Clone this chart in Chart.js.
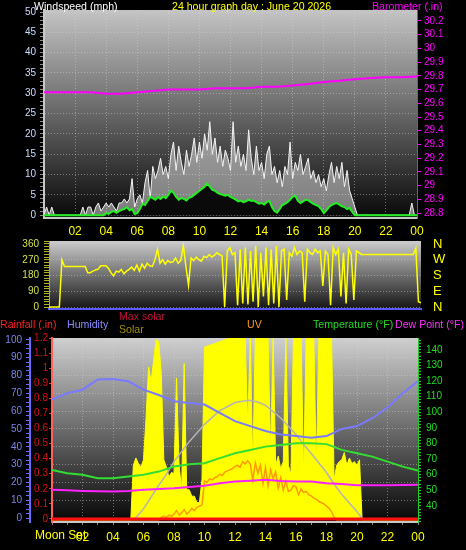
<!DOCTYPE html>
<html lang="en">
<head>
<meta charset="UTF-8">
<title>24 hour graph</title>
<script src="https://cdn.jsdelivr.net/npm/chart.js"></script>
<style>
  body { margin: 0; background: #000; font-family: "Liberation Sans", Arial, sans-serif; }
  .page { position: relative; width: 466px; height: 550px; overflow: hidden; background: #000; }
  canvas { position: absolute; left: 0; }
  .lbl { position: absolute; font-size: 10.6px; line-height: 12px; white-space: nowrap; }
</style>
</head>
<body>
<div class="page">
  <canvas id="windChart" width="466" height="242" style="top:0"></canvas>
  <canvas id="dirChart" width="466" height="76" style="top:238px"></canvas>
  <canvas id="weatherChart" width="466" height="250" style="top:300px"></canvas>

  <div class="lbl" style="left:34px;top:0;color:#fff">Windspeed (mph)</div>
  <div class="lbl" style="left:172px;top:0;color:#ffff00">24 hour graph day : June 20 2026</div>
  <div class="lbl" style="left:372px;top:0;color:#ff00ff">Barometer (.in)</div>

  <div class="lbl" style="left:0;top:318px;color:#ff2020">Rainfall (.in)</div>
  <div class="lbl" style="left:67px;top:318px;color:#8a8aff">Humidity</div>
  <div class="lbl" style="left:119px;top:310px;color:#c0143c">Max solar</div>
  <div class="lbl" style="left:119px;top:323px;color:#a09000">Solar</div>
  <div class="lbl" style="left:247px;top:318px;color:#ff9a20">UV</div>
  <div class="lbl" style="left:313px;top:318px;color:#22dd22">Temperature (°F)</div>
  <div class="lbl" style="left:395px;top:318px;color:#ff30ff">Dew Point (°F)</div>
  <div class="lbl" style="left:35px;top:529px;color:#ffff00;font-size:12px">Moon Set</div>
</div>
<script>
// time positions (hours)
const hours = [0, 1, 2, 3, 4, 5, 6, 7, 8, 9, 10, 11, 12, 13, 14, 15, 16, 17, 18, 19, 20, 21, 22, 23, 24];
const tenMin = Array.from({ length: 145 }, (_, i) => i / 6);
const hourLabels = ['', '02', '04', '06', '08', '10', '12', '14', '16', '18', '20', '22', '00'];
const compass = ['N', 'E', 'S', 'W', 'N'];

// wind speed, mph (10 min samples, one row per hour)
const windGust = [
  0, 2, 0, 2, 0, 0,
  0, 0, 0, 0, 0, 0,
  0, 0, 0, 2, 0, 2,
  2, 0, 2, 3, 1, 2,
  3, 2, 3, 2, 1, 3,
  3, 4, 3, 4, 9, 2,
  4, 5, 3, 8, 11, 4,
  12, 9, 11, 14, 10, 12,
  9, 15, 18, 11, 17, 13,
  10, 16, 12, 15, 19, 13,
  18, 14, 20, 16, 23, 15,
  19, 13, 17, 12, 16, 14,
  11, 23, 13, 17, 12, 15,
  11, 21, 14, 10, 17, 11,
  13, 9, 15, 17, 10, 12,
  8, 11, 7, 12, 10, 18,
  9, 13, 11, 15, 10, 12,
  14, 9, 11, 8, 10, 7,
  9, 6, 10, 13, 8, 12,
  9, 13, 7, 11, 6, 4,
  2, 0, 0, 0, 0, 0,
  0, 0, 0, 0, 0, 0,
  0, 0, 0, 0, 0, 0,
  0, 0, 0, 0, 3, 0,
  0
];
const windAvg = [
  0, 0, 0, 0, 0, 0,
  0, 0, 0, 0, 0, 0,
  0, 0, 0, 0, 0, 0,
  0, 0, 0, 0, 0, 0,
  0.5, 0.3, 0.8, 1, 0.6, 1,
  1.3, 1.5, 2, 1.2, 1.5, 0.3,
  0.5, 1.5, 2.8, 2.5, 3.5, 4.5,
  4.2, 3.8, 4.5, 4, 4.6, 4.2,
  5, 6, 5.5, 4.5, 3.8, 4.2,
  4, 3.6, 4.3, 4.5, 5, 5.5,
  6, 6.5, 7, 7.8, 7, 6.2,
  6, 5.5, 5.2, 5, 4.8, 5,
  4.5, 4.2, 3.8, 3.4, 3.6, 3.2,
  3.4, 3.8, 3.5, 3.6, 3.2, 2.8,
  3, 2.6, 3.2, 3.5, 2, 1,
  0.6, 1.5, 2.5, 2.8, 3.2, 3.8,
  4.5, 4.8, 3.5, 3, 3.4, 3.8,
  3.7, 3.2, 2.8, 2.5, 2.2, 1.5,
  0.5, 1.2, 2, 2.5, 2.8, 3,
  2.6, 2.2, 2, 1.5, 1.8, 0.8,
  0, 0, 0, 0, 0, 0,
  0, 0, 0, 0, 0, 0,
  0, 0, 0, 0, 0, 0,
  0, 0, 0, 0, 0, 0,
  0
];
const barometer = [29.68, 29.68, 29.68, 29.68, 29.67, 29.67, 29.68, 29.69, 29.70, 29.70, 29.70, 29.71, 29.71,
  29.71, 29.72, 29.72, 29.73, 29.74, 29.755, 29.765, 29.775, 29.785, 29.79, 29.79, 29.795];

// wind direction, degrees (10 min samples)
const windDir = [
  0, 0, 0, 0, 0, 270,
  232, 232, 232, 232, 232, 232,
  232, 232, 232, 196, 196, 205,
  212, 216, 236, 236, 236, 222,
  196, 178, 205, 200, 215, 190,
  205, 215, 228, 210, 240, 205,
  245, 222, 250, 236, 232, 270,
  330, 250, 270, 245, 265, 255,
  258, 280, 250, 265, 350, 232,
  125, 280, 265, 285, 270, 262,
  290, 282, 300, 286, 295, 310,
  300, 292, 0, 320, 340, 300,
  310, 10, 330, 20, 340, 15,
  320, 30, 350, 0, 310, 60,
  340, 10, 330, 20, 350, 0,
  320, 330, 40, 310, 290, 340,
  300, 320, 310, 30, 330, 310,
  300, 330, 310, 320, 120, 320,
  300, 10, 340, 300, 330, 60,
  310, 20, 330, 300, 40, 320,
  310, 300, 300, 300, 300, 300,
  300, 300, 300, 300, 300, 300,
  300, 300, 300, 300, 300, 300,
  300, 300, 300, 300, 335, 30,
  25
];

// solar radiation W/m2 and UV index (10 min samples)
const solar = [
  0, 0, 0, 0, 0, 0,
  0, 0, 0, 0, 0, 0,
  0, 0, 0, 0, 0, 0,
  0, 0, 0, 0, 0, 0,
  0, 0, 0, 0, 0, 0,
  0, 0, 300, 340, 310, 290,
  330, 560, 840, 760, 880, 990,
  980, 800, 330, 290, 235, 260,
  255, 780, 300, 165, 860, 165,
  165, 130, 130, 95, 95, 220,
  950, 955, 960, 965, 970, 975,
  980, 985, 990, 995, 1000, 1000,
  1000, 1000, 1000, 1000, 1000, 520,
  1000, 300, 1000, 1000, 1000, 1000,
  1000, 1000, 380, 1000, 300, 350,
  280, 320, 1000, 300, 250, 1000,
  1000, 1000, 1000, 250, 1000, 1000,
  1000, 1000, 300, 1000, 1000, 1000,
  1000, 1000, 1000, 220, 300, 320,
  330, 370, 300, 340, 310, 320,
  300, 330, 0, 0, 0, 0,
  0, 0, 0, 0, 0, 0,
  0, 0, 0, 0, 0, 0,
  0, 0, 0, 0, 0, 0,
  0
];
const uvIndex = [
  0, 0, 0, 0, 0, 0,
  0, 0, 0, 0, 0, 0,
  0, 0, 0, 0, 0, 0,
  0, 0, 0, 0, 0, 0,
  0, 0, 0, 0, 0, 0,
  0, 0, 0, 0, 0, 0,
  0, 0, 0, 0, 0, 0,
  0, 0.2, 0.3, 0.2, 0.4, 0.3,
  0.5, 0.8, 0.4, 0.6, 0.9, 0.5,
  0.7, 1.0, 0.8, 1.1, 1.2, 1.3,
  3.4, 3.3, 3.6, 3.5, 3.7, 3.8,
  4.0, 3.9, 4.2, 4.3, 4.4, 4.5,
  4.7, 4.8, 4.6, 5.1, 4.9, 5.2,
  4.9, 3.5, 5.0, 4.1, 4.8, 3.2,
  4.6, 3.0, 4.4, 3.6, 4.2, 2.8,
  3.7, 2.6, 3.4, 2.5, 2.6, 3.0,
  2.9, 2.2, 2.7, 2.4, 2.5, 2.2,
  2.1, 1.9, 1.8, 1.6, 1.5, 1.4,
  1.2, 1.0, 0.7, 0.2, 0, 0,
  0, 0, 0, 0, 0, 0,
  0, 0, 0, 0, 0, 0,
  0, 0, 0, 0, 0, 0,
  0, 0, 0, 0, 0, 0,
  0, 0, 0, 0, 0, 0,
  0
];
const maxSolarHours = [5.4, 6, 7, 7.5, 8, 9, 10, 11, 12, 12.9, 13.5, 14, 15, 16, 16.5, 17, 18, 18.5, 19, 20, 20.4];
const maxSolar = [0, 60, 190, 250, 320, 430, 525, 600, 645, 657, 648, 630, 560, 470, 415, 365, 260, 197, 140, 45, 0];

// hourly readings
const humidity = [66.5, 70, 72, 77.7, 78, 76.7, 72, 69, 65.5, 64.6, 63.7, 59, 54.4, 51.6, 48.8, 46.9, 46, 45, 46, 50, 51.6, 56, 62, 70, 76.7];
const temperature = [63.1, 61, 60, 57.8, 57.8, 58.8, 60, 62, 65.2, 66.7, 67.4, 70.6, 73.8, 75.9, 78, 79, 80.2, 80.2, 79.6, 75.9, 73.8, 71.6, 68.4, 65.2, 62.7];
const dewPoint = [50.3, 50, 49.6, 49.4, 49.2, 49.6, 50.3, 50.8, 51.3, 52.1, 53.0, 54.6, 55.6, 56.2, 56.7, 56, 55.6, 55.6, 54.6, 54, 53.2, 53.2, 53.2, 53.4, 53.6];
const rainHours = [0, 24];
const rainfall = [0, 0];

const pts = (xs, ys) => xs.map((x, i) => ({ x: x, y: ys[i] }));

Chart.defaults.font.family = '"Liberation Sans", Arial, sans-serif';

// grey-to-black background behind each plot area
const plotBg = {
  id: 'plotBg',
  beforeDraw(chart, args, opts) {
    const { ctx, chartArea: a } = chart;
    const g = ctx.createLinearGradient(0, a.top, 0, a.bottom);
    g.addColorStop(0, opts.top || '#c8c8c8');
    g.addColorStop(1, opts.bottom || '#050505');
    ctx.save();
    ctx.fillStyle = g;
    ctx.fillRect(a.left, a.top, a.width, a.height);
    ctx.restore();
  }
};
Chart.register(plotBg);

const gridDot = 'rgba(215,215,215,0.45)';
const none = 'rgba(0,0,0,0)';

// fixed axis width, no extra label padding above/below the plot
const fixWidth = w => s => { s.width = w; s.paddingTop = 0; s.paddingBottom = 0; };

function hourAxis(height, step, showLabels, pad) {
  return {
    type: 'linear', min: 0, max: 24,
    afterFit: s => { s.height = height; },
    ticks: {
      display: showLabels, stepSize: step, autoSkip: false, maxRotation: 0,
      color: '#ffff00', font: { size: 12 }, padding: pad,
      callback: v => v % 2 === 0 ? hourLabels[v / 2] : ''
    },
    grid: {
      color: c => c.tick && c.tick.value % 2 === 0 ? gridDot : none,
      tickColor: '#8a8a8a', tickLength: 3, drawTicks: step === 1
    },
    border: { color: '#c8c8c8', width: 2, dash: [1, 2] }
  };
}

function commonOpts(padTop, bg, scales) {
  return {
    responsive: false,
    animation: false,
    events: [],
    layout: { padding: { top: padTop, left: 0, right: 0, bottom: 0 } },
    elements: { point: { radius: 0 }, line: { tension: 0 } },
    plugins: { legend: { display: false }, tooltip: { enabled: false }, plotBg: bg },
    scales: scales
  };
}

// wind speed + barometer
new Chart(document.getElementById('windChart'), {
  type: 'line',
  data: {
    datasets: [
      { label: 'Barometer', data: pts(hours, barometer), yAxisID: 'baro', borderColor: '#ff00ff', borderWidth: 2, order: 0 },
      { label: 'Wind speed', data: pts(tenMin, windAvg), yAxisID: 'y', borderColor: '#22ee22', borderWidth: 2,
        fill: 'origin', backgroundColor: 'rgba(0,0,0,0.92)', order: 1 },
      { label: 'Wind gust', data: pts(tenMin, windGust), yAxisID: 'y', borderColor: '#f4f4f4', borderWidth: 1,
        fill: 'origin', backgroundColor: 'rgba(235,235,235,0.5)', order: 2 }
    ]
  },
  options: commonOpts(10, { top: '#c4c4c4', bottom: '#080808' }, {
    x: hourAxis(24, 2, true, 6),
    y: {
      axis: 'y', position: 'left', min: -0.7, max: 50.5,
      afterFit: fixWidth(44),
      ticks: {
        stepSize: 1, autoSkip: false, includeBounds: false, color: '#c8dcff', font: { size: 10 }, padding: 4,
        callback: v => v % 5 === 0 ? String(v) : ''
      },
      grid: { color: c => c.tick && c.tick.value % 5 === 0 ? gridDot : none, tickColor: '#8a8a8a', tickLength: 4 },
      border: { color: '#c8c8c8', width: 2, dash: [1, 2] }
    },
    baro: {
      axis: 'y', position: 'right', min: 28.764, max: 30.28,
      afterFit: fixWidth(49),
      ticks: {
        stepSize: 0.1, autoSkip: false, includeBounds: false, color: '#ff00ff', font: { size: 10 }, padding: 3,
        callback: v => String(Math.round(v * 10) / 10)
      },
      grid: { drawOnChartArea: false, tickColor: '#ff00ff', tickLength: 4 },
      border: { color: '#ff00ff', width: 1 }
    }
  })
});

// wind direction
new Chart(document.getElementById('dirChart'), {
  type: 'line',
  data: {
    datasets: [
      { label: 'Direction', data: pts(tenMin, windDir), yAxisID: 'y', borderColor: '#ffff00', borderWidth: 1.5 }
    ]
  },
  options: commonOpts(3, { top: '#cccccc', bottom: '#141414' }, {
    x: {
      type: 'linear', min: 0, max: 24,
      afterFit: s => { s.height = 5; },
      ticks: { display: false },
      grid: { display: false },
      border: { color: '#5a5aff', width: 2 }
    },
    y: {
      axis: 'y', position: 'left', min: -11, max: 377,
      afterFit: fixWidth(49),
      ticks: {
        stepSize: 15, autoSkip: false, includeBounds: false, color: '#d4e04a', font: { size: 10 }, padding: 5,
        callback: v => v % 90 === 0 ? String(v) : ''
      },
      grid: { color: c => c.tick && c.tick.value % 90 === 0 ? gridDot : none, tickColor: '#b0b020', tickLength: 5 },
      border: { color: '#9a9a9a', width: 1, dash: [1, 2] }
    },
    dir: {
      axis: 'y', position: 'right', min: -11, max: 377,
      afterFit: fixWidth(45),
      ticks: {
        stepSize: 90, autoSkip: false, includeBounds: false, color: '#ffff00', font: { size: 13 }, padding: 12,
        callback: v => compass[v / 90]
      },
      grid: { drawOnChartArea: false, drawTicks: false },
      border: { display: false }
    }
  })
});

// rain, humidity, solar, UV, temperature, dew point
new Chart(document.getElementById('weatherChart'), {
  type: 'line',
  data: {
    datasets: [
      { label: 'Rainfall', data: pts(rainHours, rainfall), yAxisID: 'rain', borderColor: '#ff1010', borderWidth: 3, order: 0 },
      { label: 'Dew Point', data: pts(hours, dewPoint), yAxisID: 'temp', borderColor: '#ff22ff', borderWidth: 2, order: 1 },
      { label: 'Temperature', data: pts(hours, temperature), yAxisID: 'temp', borderColor: '#33dd33', borderWidth: 2, order: 2 },
      { label: 'Humidity', data: pts(hours, humidity), yAxisID: 'hum', borderColor: '#7a7aff', borderWidth: 2, order: 3 },
      { label: 'Max solar', data: pts(maxSolarHours, maxSolar), yAxisID: 'sol', borderColor: '#b4b4b4', borderWidth: 1.5, order: 4 },
      { label: 'UV', data: pts(tenMin, uvIndex), yAxisID: 'uv', borderColor: '#ff9a00', borderWidth: 1.5, order: 5 },
      { label: 'Solar', data: pts(tenMin, solar), yAxisID: 'sol', borderColor: '#ffff00', borderWidth: 1,
        fill: 'origin', backgroundColor: '#ffff00', order: 6 }
    ]
  },
  options: commonOpts(38, { top: '#cfcfcf', bottom: '#060606' }, {
    x: hourAxis(28, 1, true, 5),
    hum: {
      axis: 'y', position: 'left', weight: 1, min: -2.2, max: 101,
      afterFit: fixWidth(30),
      ticks: {
        stepSize: 2.5, autoSkip: false, includeBounds: false, color: '#7a86e8', font: { size: 10 }, padding: 4,
        callback: v => v % 10 === 0 ? String(v) : ''
      },
      grid: { color: c => c.tick && c.tick.value % 10 === 0 ? gridDot : none, tickColor: '#6a6aff', tickLength: 4 },
      border: { color: '#6a6aff', width: 2, dash: [1, 2] }
    },
    rain: {
      axis: 'y', position: 'left', weight: 0, min: -0.02, max: 1.2,
      afterFit: fixWidth(22),
      ticks: {
        stepSize: 0.1, autoSkip: false, includeBounds: false, color: '#dd1010', font: { size: 10 }, padding: 1,
        callback: v => (Number.isInteger(v) ? String(v) : v.toFixed(1))
      },
      grid: { drawOnChartArea: false, tickColor: '#ff3030', tickLength: 3 },
      border: { color: '#ff6060', width: 2 }
    },
    temp: {
      axis: 'y', position: 'right', min: 29.7, max: 147.6,
      afterFit: fixWidth(48),
      ticks: {
        stepSize: 2, autoSkip: false, includeBounds: false, color: '#22dd22', font: { size: 10 }, padding: 5,
        callback: v => (v >= 40 && v % 10 === 0 ? String(v) : '')
      },
      grid: { drawOnChartArea: false, tickColor: '#22cc22', tickLength: 3 },
      border: { color: '#22cc22', width: 1 }
    },
    sol: { axis: 'y', position: 'right', display: false, min: -12, max: 1000 },
    uv: { axis: 'y', position: 'right', display: false, min: -0.2, max: 16 }
  })
});
</script>
</body>
</html>
